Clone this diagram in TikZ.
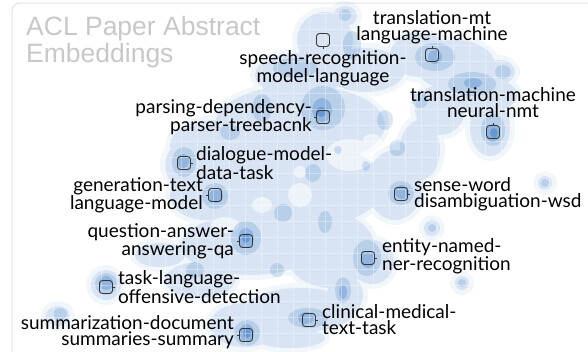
\documentclass[tikz,border=0pt]{standalone}
\usepackage{fontspec}
\usetikzlibrary{positioning}
\newfontfamily\lblfont{Lato}
\newfontfamily\ttlfont{Liberation Sans}
\definecolor{dens}{RGB}{58,122,198}
\definecolor{ttlgray}{RGB}{200,200,200}
\definecolor{cardline}{RGB}{226,226,226}
\definecolor{boxline}{RGB}{55,55,55}
\tikzset{
    topic/.style={rectangle, rounded corners=3pt, draw=boxline, line width=0.9pt, minimum size=13pt, inner sep=0pt},
    tick/.style={draw=boxline, line width=0.9pt},
    lbl/.style={font=\lblfont\fontsize{19}{16}\selectfont, inner sep=0pt, text=black},
    lvlO/.style={fill=dens, fill opacity=0.07},
    lvlA/.style={fill=dens, fill opacity=0.14},
    lvlB/.style={fill=dens, fill opacity=0.2},
    lvlC/.style={fill=dens, fill opacity=0.3},
    lvlD/.style={fill=dens, fill opacity=0.5},
    gridln/.style={draw=white, opacity=0.35, line width=0.7pt}
}
% density patches: x/y/x-radius/y-radius
\def\bodyA{345/16/12/10, 325/40/28/28, 300/75/45/22, 365/70/40/22,
    420/55/30/22, 455/65/40/25, 500/72/15/12, 478/95/40/18, 490/128/20/28, 440/110/25/25,
    420/150/20/30, 300/125/85/40, 220/145/50/25, 190/165/25/25, 205/195/35/25, 290/185/95/45,
    395/185/28/35, 250/245/70/30, 330/250/45/38, 372/262/22/22, 345/295/18/20, 300/310/55/22,
    245/325/35/22, 290/338/35/10, 200/280/35/18, 160/255/25/12, 106/285/15/15, 58/316/12/10,
    545/183/7/7, 432/228/8/8, 462/283/7/7}
\def\bodyB{323/108/22/22, 295/68/22/10, 352/45/9/14, 345/15/6/6,
    435/57/20/14, 472/84/24/12, 493/130/12/16, 503/72/8/7, 184/162/12/15, 215/196/13/13,
    246/238/15/17, 247/333/13/13, 106/284/11/11, 401/193/13/12, 367/258/14/18, 343/290/8/13,
    308/318/20/10, 397/148/8/8, 313/173/8/9, 283/213/9/9, 277/270/7/7, 195/270/9/8,
    325/222/7/11, 262/108/10/14, 230/132/10/8, 60/314/7/6, 545/183/4/4, 432/228/4/4,
    462/283/4/4, 385/120/8/10, 420/100/8/8, 338/150/4/4, 366/166/4/5}
\def\bodyC{322/110/10/12, 246/238/8/10, 247/333/7/9, 493/133/7/9,
    106/283/7/7, 216/196/7/7, 183/161/6/7, 473/83/9/5, 343/292/4/7, 368/260/7/8,
    402/192/7/7, 435/57/7/7, 306/318/8/6}
\def\bodyD{246/238/4/5, 247/333/4/5, 494/133/4/5, 321/112/5/5}

\begin{document}
\begin{tikzpicture}[x=1pt, y=-1pt]
    \useasboundingbox (0,0) rectangle (588,351);
    \clip (0,0) rectangle (588,351);

    % card frame
    \draw[cardline, line width=1pt, rounded corners=8pt] (12,360) -- (12,3) -- (600,3);

    % density levels, each level one union
    \fill[lvlO] \foreach \x/\y/\a/\b in \bodyA {(\x,\y) ellipse [x radius=\a+5, y radius=\b+5]};
    \fill[lvlA] \foreach \x/\y/\a/\b in \bodyA {(\x,\y) ellipse [x radius=\a, y radius=\b]};
    \fill[white, fill opacity=0.55] \foreach \x/\y/\a/\b in {350/155/24/16, 300/195/12/12,
        262/205/10/8, 225/225/14/8, 300/172/6/6, 372/142/10/8}
        {(\x,\y) ellipse [x radius=\a, y radius=\b]};
    \fill[lvlB] \foreach \x/\y/\a/\b in \bodyB {(\x,\y) ellipse [x radius=\a, y radius=\b]};
    \fill[lvlC] \foreach \x/\y/\a/\b in \bodyC {(\x,\y) ellipse [x radius=\a, y radius=\b]};
    \fill[lvlD] \foreach \x/\y/\a/\b in \bodyD {(\x,\y) ellipse [x radius=\a, y radius=\b]};

    % grid over the density
    \foreach \gx in {21,37,...,588} \draw[gridln] (\gx,10) -- (\gx,351);
    \foreach \gy in {13,29,...,351} \draw[gridln] (20,\gy) -- (588,\gy);

    % title
    \node[font=\ttlfont\fontsize{26.5}{27}\selectfont, text=ttlgray, align=left, anchor=north west, inner sep=0pt]
        (title) at (26,16) {ACL Paper Abstract\\Embeddings};

    % topic boxes
    \node[topic] (speech) at (323,40) {};
    \node[topic] (transmt) at (432,55) {};
    \node[topic] (nmt) at (493,132) {};
    \node[topic] (pars) at (323,117) {};
    \node[topic] (dialog) at (184,163) {};
    \node[topic] (gener) at (215,195) {};
    \node[topic] (qa) at (246,241) {};
    \node[topic] (task) at (106,287) {};
    \node[topic] (summ) at (246,335) {};
    \node[topic] (clin) at (309,320) {};
    \node[topic] (ent) at (368,258) {};
    \node[topic] (sense) at (401,194) {};

    \draw[tick] (speech.south) -- ++(0,2.5);
    \draw[tick] (transmt.north) -- ++(0,-2.5);
    \draw[tick] (nmt.north) -- ++(0,-2.5);
    \draw[tick] (pars.west) -- ++(-2.5,0);
    \draw[tick] (dialog.east) -- ++(2.5,0);
    \draw[tick] (gener.west) -- ++(-2.5,0);
    \draw[tick] (qa.west) -- ++(-2.5,0);
    \draw[tick] (task.east) -- ++(2.5,0);
    \draw[tick] (summ.west) -- ++(-2.5,0);
    \draw[tick] (clin.east) -- ++(2.5,0);
    \draw[tick] (ent.east) -- ++(2.5,0);
    \draw[tick] (sense.east) -- ++(2.5,0);

    % labels
    \node[lbl, align=center, below=3pt of speech] (speechL) {speech-recognition-\\model-language};
    \node[lbl, align=center, above=4pt of transmt] (transmtL) {translation-mt\\language-machine};
    \node[lbl, align=center, above=7pt of nmt] (nmtL) {translation-machine\\neural-nmt};
    \node[lbl, align=right, left=4pt of pars] (parsL) {parsing-dependency-\\parser-treebacnk};
    \node[lbl, align=left, right=5pt of dialog] (dialogL) {dialogue-model-\\data-task};
    \node[lbl, align=right, left=5pt of gener] (generL) {generation-text\\language-model};
    \node[lbl, align=right, left=5pt of qa] (qaL) {question-answer-\\answering-qa};
    \node[lbl, align=left, right=5pt of task] (taskL) {task-language-\\offensive-detection};
    \node[lbl, align=right, left=5pt of summ, yshift=3pt] (summL) {summarization-document\\summaries-summary};
    \node[lbl, align=left, right=6pt of clin] (clinL) {clinical-medical-\\text-task};
    \node[lbl, align=left, right=7pt of ent, yshift=2pt] (entL) {entity-named-\\ner-recognition};
    \node[lbl, align=left, right=6pt of sense] (senseL) {sense-word\\disambiguation-wsd};
\end{tikzpicture}
\end{document}
